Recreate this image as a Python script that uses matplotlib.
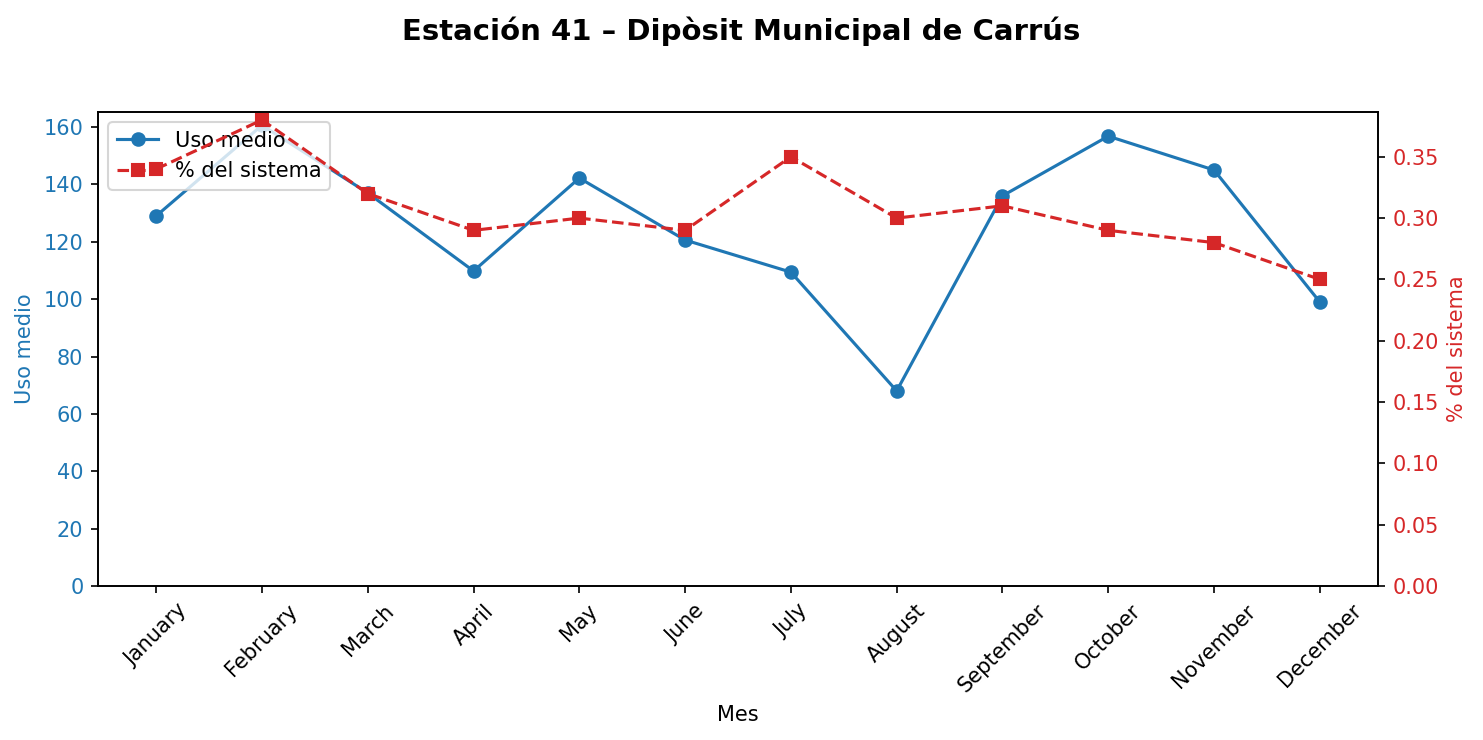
import matplotlib.pyplot as plt

months = ["January", "February", "March", "April", "May", "June", "July",
          "August", "September", "October", "November", "December"]
uso_medio = [129, 160.6, 137, 109.8, 142.2, 120.6, 109.4, 68, 136, 156.8, 145, 99]
pct_sistema = [0.34, 0.38, 0.32, 0.29, 0.30, 0.29, 0.35, 0.30, 0.31, 0.29, 0.28, 0.25]

fig, ax1 = plt.subplots(figsize=(1483 / 150, 740 / 150), dpi=150)
fig.subplots_adjust(left=98 / 1483, right=1378 / 1483, top=1 - 112 / 740, bottom=1 - 586 / 740)

l1, = ax1.plot(months, uso_medio, marker="o", color="tab:blue", label="Uso medio")
ax1.set_ylim(bottom=0)
ax1.set_xlabel("Mes")
ax1.set_ylabel("Uso medio", color="tab:blue")
ax1.tick_params(axis="y", labelcolor="tab:blue")
ax1.tick_params(axis="x", rotation=45)

ax2 = ax1.twinx()
l2, = ax2.plot(months, pct_sistema, marker="s", linestyle="--", color="tab:red", label="% del sistema")
ax2.set_ylim(bottom=0)
ax2.set_ylabel("% del sistema", color="tab:red")
ax2.tick_params(axis="y", labelcolor="tab:red")

ax1.legend([l1, l2], [l1.get_label(), l2.get_label()], loc="upper left")

fig.suptitle("Estación 41 – Dipòsit Municipal de Carrús", fontsize=14, fontweight="bold", y=0.978)

plt.savefig("out.png", dpi=150)
plt.close(fig)
